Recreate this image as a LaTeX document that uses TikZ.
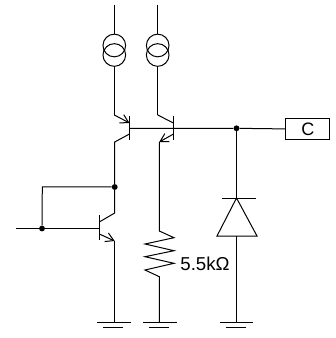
\documentclass[tikz,border=0pt]{standalone}
\usepackage{fontspec}
\setmainfont{Liberation Sans}
\usetikzlibrary{arrows.meta}
\tikzset{
  wire/.style={line width=0.75pt,black},
  bar/.style={line width=0.75pt,black},
  arrowline/.style={line width=0.75pt,-{Straight Barb[length=6pt,width=7pt,line width=0.75pt]}},
  junction/.style={circle,fill=black,inner sep=0pt,minimum size=4.4pt},
  source/.style={circle,draw=black,line width=0.75pt,minimum size=17pt,inner sep=0pt,outer sep=0pt},
  portbox/.style={draw=black,line width=0.75pt,minimum width=33pt,minimum height=16pt,inner sep=0pt,outer sep=0pt,font=\fontsize{13.5}{14}\selectfont},
  valuelabel/.style={inner sep=0pt,font=\fontsize{14}{16}\selectfont}
}
\begin{document}
\begin{tikzpicture}[x=0.75pt,y=-0.75pt]
\useasboundingbox (0,0) rectangle (335,338);
% current sources
\node[source] (s1a) at (114.3,45.5) {};
\node[source] (s1b) at (114.3,55) {};
\node[source] (s2a) at (157.7,45.5) {};
\node[source] (s2b) at (157.7,55) {};
% coordinates
\coordinate (t1) at (114.3,5);
\coordinate (t2) at (157.7,5);
\coordinate (q1e) at (114.3,115);
\coordinate (q1ee) at (129.5,123);
\coordinate (q1b) at (129.5,128.5);
\coordinate (q1c) at (129.5,134);
\coordinate (q1k) at (114.7,142);
\coordinate (q1t) at (129.5,116);
\coordinate (q1u) at (129.5,140.5);
\coordinate (q2e) at (157.7,115);
\coordinate (q2ee) at (173.5,123);
\coordinate (q2c) at (173.5,134);
\coordinate (q2k) at (159.3,142);
\coordinate (q2t) at (173.5,116);
\coordinate (q2u) at (173.5,140.5);
\coordinate (q3t) at (99.3,215);
\coordinate (q3u) at (99.3,240);
\coordinate (q3b) at (99.3,228.5);
\coordinate (q3c) at (99.3,222);
\coordinate (q3k) at (114.7,213);
\coordinate (q3e) at (99.3,234);
\coordinate (q3ee) at (114.7,241);
\coordinate (in) at (16,228.5);
\coordinate (corner) at (42.3,186.8);
\coordinate (g1) at (114.7,322);
\coordinate (g2) at (159.3,322);
\coordinate (g3) at (236.5,322);
\node[junction] (j1) at (114.7,187) {};
\node[junction] (j2) at (42,228.5) {};
\node[junction] (j3) at (236.5,128.3) {};
\node[portbox] (c) at (307.8,129.2) {C};
% supply lines
\draw[wire] (t1) -- (s1a);
\draw[wire] (t2) -- (s2a);
\draw[wire] (s1b) -- (q1e);
\draw[wire] (s2b) -- (q2e);
% Q1
\draw[arrowline] (q1e) -- (q1ee);
\draw[bar] (q1t) -- (q1u);
\draw[wire] (q1c) -- (q1k) -- (j1);
% Q2
\draw[wire] (q2e) -- (q2ee);
\draw[bar] (q2t) -- (q2u);
\draw[arrowline] (q2c) -- (q2k);
% base line
\draw[wire] (q1b) -- (j3) -- (c);
% Q3
\draw[bar] (q3t) -- (q3u);
\draw[wire] (in) -- (j2) -- (q3b);
\draw[wire] (j2) -- (corner) -- (j1);
\draw[wire] (q3c) -- (q3k) -- (j1);
\draw[arrowline] (q3e) -- (q3ee);
% resistor
\draw[wire,line join=miter] (q2k) -- (159.3,231) -- (174,237.7) -- (145,244) -- (174,250.7) -- (145,256.7) -- (174,263.3) -- (145,270) -- (159.3,276.7) -- (g2);
% diode
\coordinate (dt) at (236.5,198);
\coordinate (db) at (236.5,236);
\draw[bar] (221.7,198) -- (256,198);
\draw[wire] (j3) -- (dt);
\draw[wire] (dt) -- (217,236) -- (257,236) -- cycle;
\draw[wire] (db) -- (g3);
% grounds
\draw[wire] (q3ee) -- (g1);
\draw[wire] (97,322) -- (131,322) (103,327) -- (123,327);
\draw[wire] (143,322) -- (177,322) (149,327) -- (169,327);
\draw[wire] (220,322) -- (253,322) (226,327) -- (246,327);
\node[valuelabel] (v) at (205,264) {5.5kΩ};
\end{tikzpicture}
\end{document}
